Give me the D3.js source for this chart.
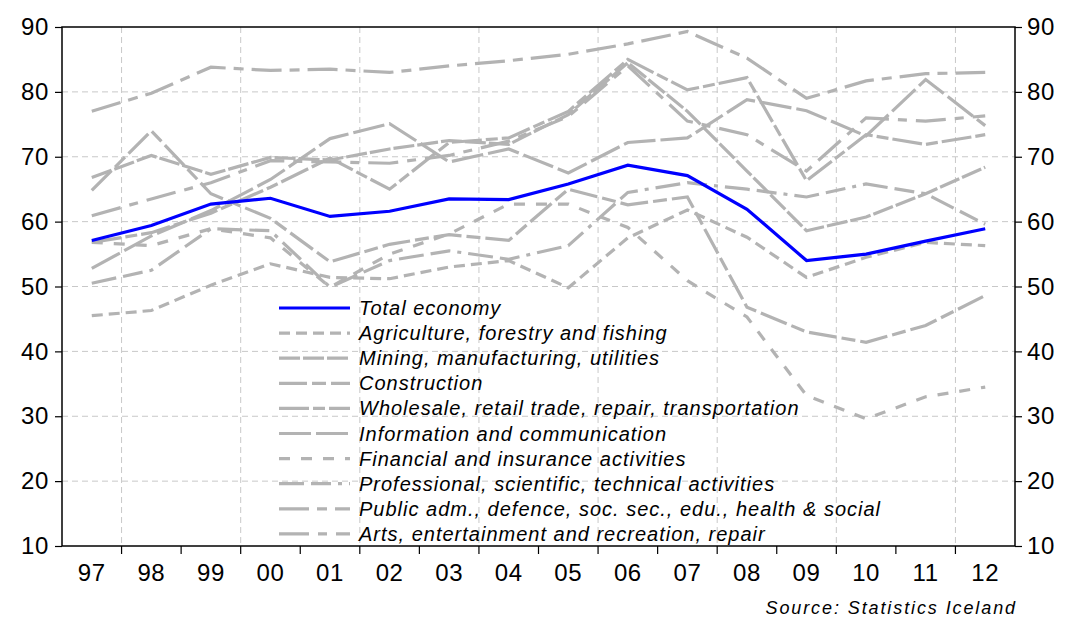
<!DOCTYPE html>
<html>
<head>
<meta charset="utf-8">
<script src="https://cdn.jsdelivr.net/npm/d3@7"></script>
<style>
  body { margin: 0; background: #fff; }
  text { font-family: "Liberation Sans", Arial, sans-serif; }
</style>
</head>
<body>
<div id="chart"></div>
<script>
const years = ["97","98","99","00","01","02","03","04","05","06","07","08","09","10","11","12"]
const yTicks = [10, 20, 30, 40, 50, 60, 70, 80, 90]

const total        = [57.1, 59.4, 62.7, 63.6, 60.8, 61.6, 63.5, 63.4, 65.8, 68.7, 67.1, 61.9, 54.0, 55.0, 57.0, 58.9]
const agriculture  = [45.5, 46.3, 50.2, 53.5, 51.4, 51.2, 53.0, 54.0, 49.8, 57.5, 61.8, 57.6, 51.4, 54.5, 56.8, 56.3]
const mining       = [66.8, 70.2, 67.3, 69.9, 69.5, 71.2, 72.5, 71.9, 76.5, 84.5, 77.0, 67.8, 58.6, 60.7, 64.3, 68.4]
const construction = [64.8, 74.0, 64.3, 60.5, 53.8, 56.5, 58.0, 57.1, 65.0, 62.6, 63.8, 46.8, 43.0, 41.4, 44.0, 48.6]
const wholesale    = [56.8, 58.3, 61.3, 65.3, 69.8, 65.0, 72.2, 72.9, 77.0, 85.0, 80.3, 82.2, 66.3, 73.4, 71.9, 73.4]
const information  = [52.8, 57.8, 61.7, 66.5, 72.8, 75.1, 69.2, 71.2, 67.5, 72.2, 72.9, 78.8, 77.1, 73.2, 81.9, 74.8]
const financial    = [56.8, 56.3, 58.9, 57.5, 49.9, 55.0, 58.1, 62.7, 62.7, 59.1, 50.9, 45.3, 33.2, 29.6, 33.0, 34.5]
const professional = [50.5, 52.5, 58.9, 58.6, 49.9, 54.0, 55.5, 54.2, 56.3, 64.5, 66.0, 65.0, 63.8, 65.8, 64.3, 59.6]
const publicAdm    = [77.0, 79.8, 83.8, 83.3, 83.5, 83.0, 84.0, 84.8, 85.8, 87.4, 89.3, 85.2, 79.0, 81.7, 82.8, 83.0]
const arts         = [60.9, 63.5, 66.0, 69.4, 69.2, 69.0, 70.2, 72.4, 76.2, 84.0, 75.5, 73.4, 67.8, 76.0, 75.5, 76.3]

const seriesNames = [
    "Total economy",
    "Agriculture, forestry and fishing",
    "Mining, manufacturing, utilities",
    "Construction",
    "Wholesale, retail trade, repair, transportation",
    "Information and communication",
    "Financial and insurance activities",
    "Professional, scientific, technical activities",
    "Public adm., defence, soc. sec., edu., health & social",
    "Arts, entertainment and recreation, repair"
]
const seriesValues = [total, agriculture, mining, construction, wholesale, information,
    financial, professional, publicAdm, arts]

// line styles
const dashes = [null, "11,6", "21,3", "28,5,14,5", "30,4,12,4", "32,5", "11,11",
    "25,7,20,7,4,7", "30,8,10,8", "30,9,9,9"]
const GRAY = "#b3b3b3"
const BLUE = "#0000ff"

const W = 1066, H = 619
const margin = { left: 62, right: 51, top: 27, bottom: 73 }

const svg = d3.select("#chart").append("svg")
    .attr("width", W)
    .attr("height", H)

const x = d3.scaleBand()
    .domain(years)
    .range([margin.left, W - margin.right])
    .padding(0)

const y = d3.scaleLinear()
    .domain([10, 90])
    .range([H - margin.bottom, margin.top])

const cx = d => x(d) + x.bandwidth() / 2
const x0 = margin.left, x1 = W - margin.right
const y0 = H - margin.bottom, y1 = margin.top

/* GRID */
svg.append("g")
    .selectAll("line")
    .data(yTicks.filter(t => t > 10 && t < 90))
    .join("line")
    .attr("x1", x0).attr("x2", x1)
    .attr("y1", d => y(d)).attr("y2", d => y(d))
    .style("stroke", "#c8c8c8")
    .style("stroke-width", 1)
    .style("stroke-dasharray", "6,4")

svg.append("g")
    .selectAll("line")
    .data(years.filter((d, i) => i % 2 === 1))
    .join("line")
    .attr("x1", d => x(d)).attr("x2", d => x(d))
    .attr("y1", y1).attr("y2", y0)
    .style("stroke", "#c8c8c8")
    .style("stroke-width", 1)
    .style("stroke-dasharray", "6,4")

/* AXES */
const axisLeft = svg.append("g")
    .attr("transform", `translate(${x0},0)`)
    .call(d3.axisLeft(y).tickValues(yTicks).tickSize(7).tickPadding(6))
const axisRight = svg.append("g")
    .attr("transform", `translate(${x1},0)`)
    .call(d3.axisRight(y).tickValues(yTicks).tickSize(7).tickPadding(5))
const axisBottom = svg.append("g")
    .attr("transform", `translate(0,${y0})`)
    .call(d3.axisBottom(x).tickSize(0).tickPadding(18))

// ticks on band boundaries
svg.append("g")
    .selectAll("line")
    .data(years.slice(1))
    .join("line")
    .attr("x1", d => x(d)).attr("x2", d => x(d))
    .attr("y1", y0).attr("y2", y0 + 8)
    .style("stroke", "#000")
    .style("stroke-width", 1.2)

;[axisLeft, axisRight, axisBottom].forEach(g => {
    g.select(".domain").remove()
    g.selectAll("line").style("stroke", "#000").style("stroke-width", 1.2)
    g.selectAll("text")
        .style("font-size", "24px")
        .style("letter-spacing", "0.6px")
        .style("fill", "#000")
})

/* LINES */
const line = d3.line()
    .x((d, i) => cx(years[i]))
    .y(d => y(d))

for (let k = seriesValues.length - 1; k >= 1; k--) {
    svg.append("path")
        .datum(seriesValues[k])
        .attr("d", line)
        .style("fill", "none")
        .style("stroke", GRAY)
        .style("stroke-width", 3.2)
        .style("stroke-dasharray", dashes[k])
}
svg.append("path")
    .datum(total)
    .attr("d", line)
    .style("fill", "none")
    .style("stroke", BLUE)
    .style("stroke-width", 3.2)

/* FRAME */
svg.append("rect")
    .attr("x", x0).attr("y", y1)
    .attr("width", x1 - x0).attr("height", y0 - y1)
    .style("fill", "none")
    .style("stroke", "#000")
    .style("stroke-width", 1.5)

/* LEGEND */
const legend = svg.append("g")
seriesNames.forEach((name, i) => {
    const ly = 308 + i * 25.1
    legend.append("line")
        .attr("x1", 279).attr("x2", 350)
        .attr("y1", ly).attr("y2", ly)
        .style("stroke", i === 0 ? BLUE : GRAY)
        .style("stroke-width", 3.2)
        .style("stroke-dasharray", dashes[i])
    legend.append("text")
        .attr("x", 359).attr("y", ly)
        .attr("dy", "0.35em")
        .style("font-size", "20px")
        .style("font-style", "italic")
        .style("letter-spacing", "1px")
        .text(name)
})

svg.append("text")
    .attr("x", 1017).attr("y", 608)
    .attr("dy", "0.35em")
    .attr("text-anchor", "end")
    .style("font-size", "18px")
    .style("font-style", "italic")
    .style("letter-spacing", "1.9px")
    .text("Source: Statistics Iceland")
</script>
</body>
</html>
